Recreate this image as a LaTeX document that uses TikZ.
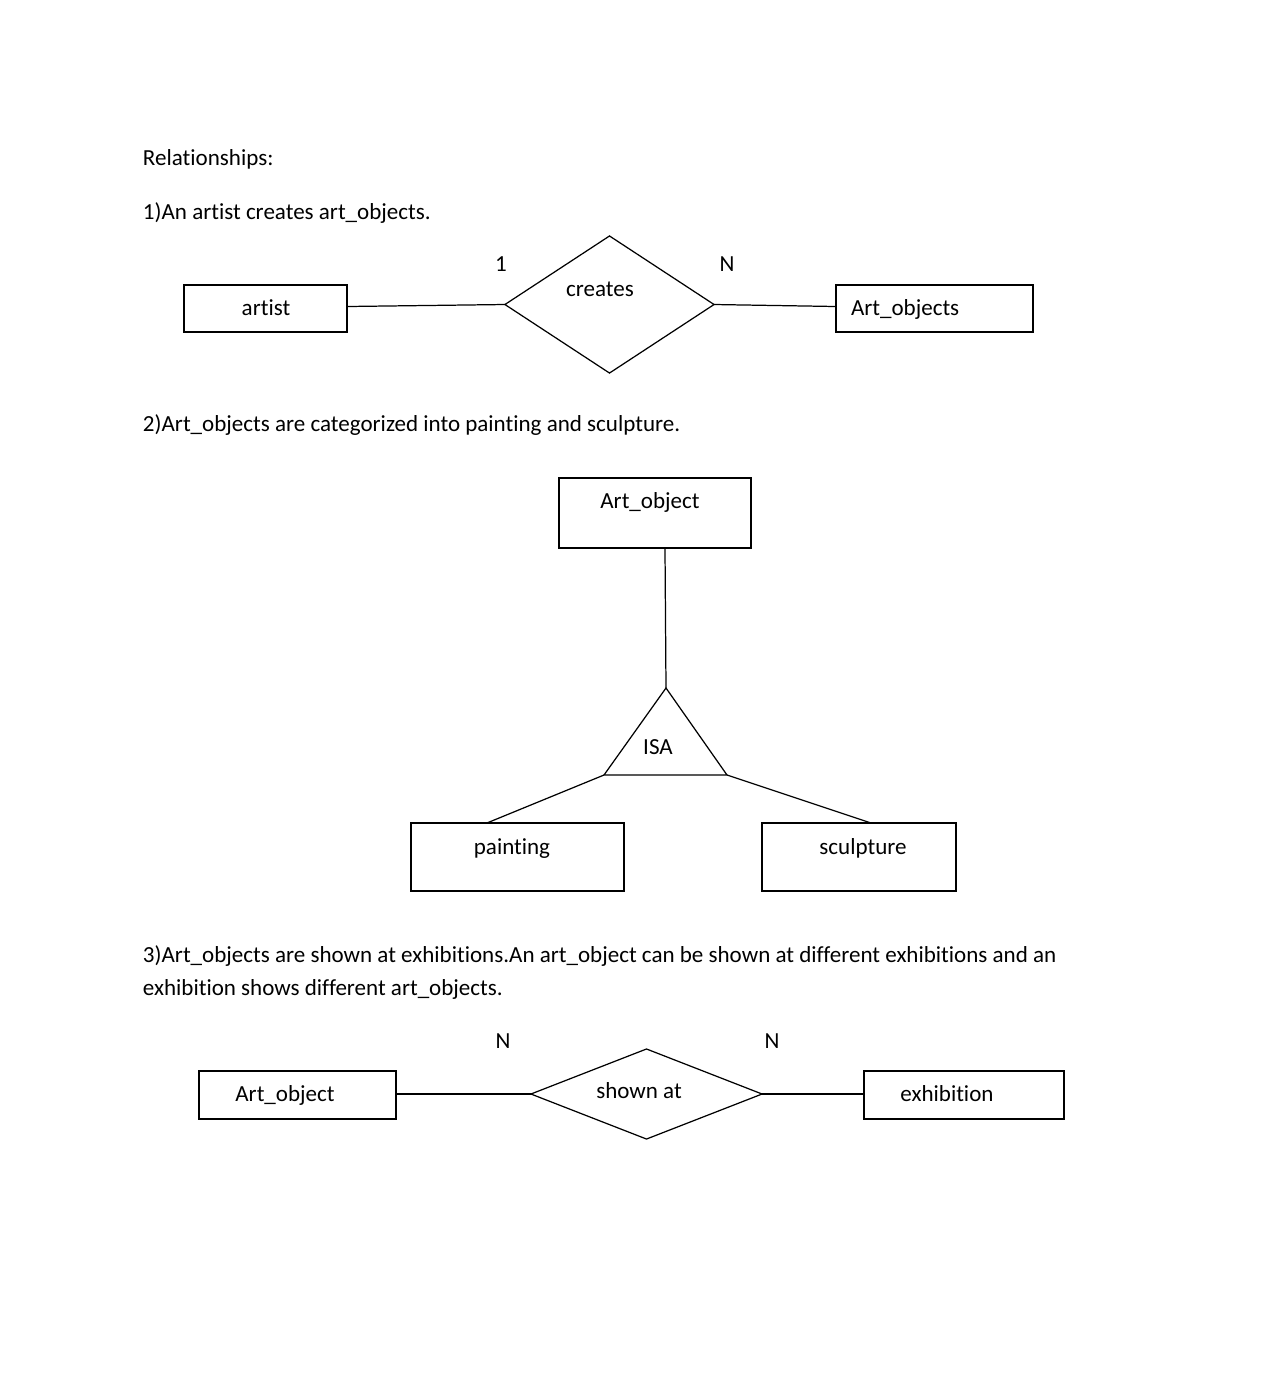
\documentclass[tikz,border=0pt]{standalone}
\usepackage{fontspec}
\setmainfont{Carlito}[Ligatures=NoCommon]
\usetikzlibrary{shapes.geometric,calc}
\begin{document}
\begin{tikzpicture}[x=0.01cm,y=-0.01cm,
  every node/.style={font=\fontsize{6.55}{7.5}\selectfont, inner sep=0pt, outer sep=0pt},
  txt/.style={anchor=base west},
  lbl/.style={anchor=base},
  ent/.style={draw, rectangle, line width=0.6pt},
  rel/.style={draw, diamond, line width=0.35pt, aspect=1},
  conn/.style={line width=0.35pt}]
\useasboundingbox[fill=white] (0,0) rectangle (1286,1396);
% headings
\node[txt] (h0) at (143,165) {Relationships:};
\node[txt] (h1) at (143,219) {1)An artist creates art\_objects.};
\node[txt] (h2) at (143,431) {2)Art\_objects are categorized into painting and sculpture.};
\node[txt] (h3) at (143,962) {3)Art\_objects are shown at exhibitions.An art\_object can be shown at different exhibitions and an};
\node[txt] (h4) at (143,995) {exhibition shows different art\_objects.};
% part 1
\node[ent, minimum width=1.63cm, minimum height=0.47cm] (artist) at (265.5,308.5) {};
\node[lbl] (artistT) at (266,315) {artist};
\node[rel, minimum width=2.09cm, minimum height=1.37cm] (creates) at (609.5,304.5) {};
\node[lbl] (createsT) at (600,296) {creates};
\node[ent, minimum width=1.97cm, minimum height=0.47cm] (artobjs) at (934.5,308.5) {};
\node[anchor=base west] (artobjsT) at (851,315) {Art\_objects};
\node[lbl] (one1) at (501,271) {1};
\node[lbl] (n1) at (727,271) {N};
\draw[conn] ($(artist.east)+(0,-2)$) -- (creates.west);
\draw[conn] (creates.east) -- ($(artobjs.west)+(0,-2)$);
% part 2
\node[ent, minimum width=1.92cm, minimum height=0.70cm] (artobj) at (655,513) {};
\node[lbl] (artobjT) at (650,508) {Art\_object};
\coordinate (isaT) at (666,688);
\coordinate (isaL) at (604,775);
\coordinate (isaR) at (727,775);
\draw[conn] (isaT) -- (isaL) -- (isaR) -- cycle;
\node[lbl] (isaTx) at (658,754) {ISA};
\node[ent, minimum width=2.13cm, minimum height=0.68cm] (painting) at (517.5,857) {};
\node[lbl] (paintingT) at (512,854) {painting};
\node[ent, minimum width=1.94cm, minimum height=0.68cm] (sculpture) at (859,857) {};
\node[lbl] (sculptureT) at (863,854) {sculpture};
\draw[conn] ($(artobj.south)+(10,0)$) -- (isaT);
\draw[conn] (isaL) -- ($(painting.north west)+(76,0)$);
\draw[conn] (isaR) -- ($(sculpture.north west)+(109,0)$);
% part 3
\node[ent, minimum width=1.97cm, minimum height=0.48cm] (artobj3) at (297.5,1095) {};
\node[lbl] (artobj3T) at (285,1101) {Art\_object};
\node[rel, minimum width=2.31cm, minimum height=0.90cm] (shown) at (646.5,1094) {};
\node[lbl] (shownT) at (639,1098) {shown at};
\node[ent, minimum width=2.00cm, minimum height=0.48cm] (exhib) at (964,1095) {};
\node[lbl] (exhibT) at (947,1101) {exhibition};
\node[lbl] (n2) at (503,1048) {N};
\node[lbl] (n3) at (772,1048) {N};
\draw[conn] (artobj3.east |- shown.west) -- (shown.west);
\draw[conn] (shown.east) -- (exhib.west |- shown.east);
\end{tikzpicture}
\end{document}
